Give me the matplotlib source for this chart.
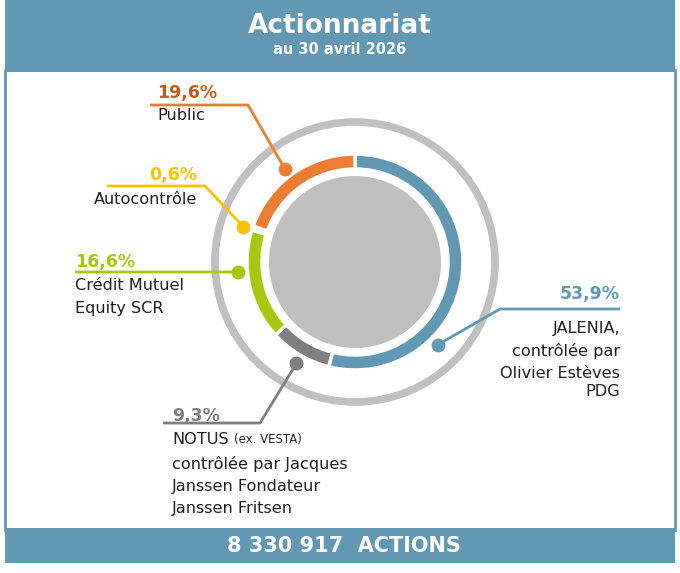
import numpy as np
import matplotlib
matplotlib.use("Agg")
import matplotlib.pyplot as plt
from matplotlib.patches import Rectangle, Circle

# Data
shareholders = ["JALENIA", "NOTUS", "Crédit Mutuel Equity SCR", "Autocontrôle", "Public"]
shares_pct = [53.9, 9.3, 16.6, 0.6, 19.6]
pct_labels = ["53,9%", "9,3%", "16,6%", "0,6%", "19,6%"]
desc_labels = [
    ["JALENIA,", "contrôlée par", "Olivier Estèves", "PDG"],
    ["NOTUS", "contrôlée par Jacques", "Janssen Fondateur", "Janssen Fritsen"],
    ["Crédit Mutuel", "Equity SCR"],
    ["Autocontrôle"],
    ["Public"],
]
notus_note = "(ex. VESTA)"
colors = ["#6199b4", "#7f7f7f", "#a8c80f", "#ffc000", "#ed7d31"]
pct_colors = ["#6199b4", "#7f7f7f", "#a8c80f", "#ffc000", "#c9591a"]
title = "Actionnariat"
subtitle = "au 30 avril 2026"
total_label = "8 330 917  ACTIONS"

W, H = 680, 573
header_blue = "#6199b4"
fig = plt.figure(figsize=(W / 100, H / 100), dpi=100)
ax = fig.add_axes([0, 0, 1, 1])


def Y(y):
    # convert from top-down pixel position
    return H - y


# frame, header and footer
ax.add_patch(Rectangle((5, Y(530)), 670, 460, facecolor="white",
                       edgecolor=header_blue, lw=2))
ax.add_patch(Rectangle((5, Y(72)), 670, 72, facecolor=header_blue, lw=0))
ax.add_patch(Rectangle((5, Y(563)), 670, 35, facecolor=header_blue, lw=0))
ax.text(340, Y(26), title, color="white", fontsize=19, fontweight="bold",
        ha="center", va="center")
ax.text(340, Y(50), subtitle, color="white", fontsize=10.5, fontweight="bold",
        ha="center", va="center")
ax.text(344, Y(546), total_label, color="white", fontsize=15, fontweight="bold",
        ha="center", va="center")

# donut
cx, cy = 355, Y(262)
ax.add_patch(Circle((cx, cy), 140, facecolor="none", edgecolor="#c0c0c0", lw=5.5))
ax.add_patch(Circle((cx, cy), 86, facecolor="#bfbfbf", lw=0))
ax.pie(shares_pct, colors=colors, center=(cx, cy), radius=108, startangle=90,
       counterclock=False, frame=True,
       wedgeprops=dict(width=15, edgecolor="white", linewidth=2.5))
ax.set_xlim(0, W)
ax.set_ylim(0, H)
ax.set_aspect("equal")
ax.axis("off")

# leader lines: dot angle, elbow point, end x
dot_angles = [315, 240, 184.9, 162.5, 127]
elbows = [(500, 309), (260, 423), (75, 272), (205, 186), (248, 105)]
ends = [620, 163, 75, 107, 150]
r_dot = 117

# label layout: x, y of percentage, y of each description line, alignment
label_pos = [
    (620, 294, [329, 351, 373, 391], "right"),
    (172, 416, [440, 464, 486, 509], "left"),
    (75, 262, [285, 308], "left"),
    (197, 175, [199], "right"),
    (157, 93, [116], "left"),
]

fig.canvas.draw()
renderer = fig.canvas.get_renderer()

for i in range(len(shares_pct)):
    a = np.radians(dot_angles[i])
    dx, dy = cx + r_dot * np.cos(a), cy + r_dot * np.sin(a)
    ex, ey = elbows[i]
    ax.plot([dx, ex, ends[i]], [dy, Y(ey), Y(ey)], color=colors[i], lw=2,
            solid_capstyle="butt", zorder=3)
    ax.plot(dx, dy, "o", color=colors[i], ms=9, zorder=4)

    x, yp, ys, ha = label_pos[i]
    ax.text(x, Y(yp), pct_labels[i], color=pct_colors[i], fontsize=12.5,
            fontweight="bold", ha=ha, va="center")
    for j, line in enumerate(desc_labels[i]):
        t = ax.text(x, Y(ys[j]), line, color="#1e1e1e", fontsize=11.6,
                    ha=ha, va="center")
        if i == 1 and j == 0:
            # smaller note after NOTUS
            bb = t.get_window_extent(renderer)
            ax.text(bb.x1 + 5, Y(ys[j]) + 1, notus_note, color="#1e1e1e",
                    fontsize=8.5, ha="left", va="center")

fig.savefig("out.png", dpi=100)
